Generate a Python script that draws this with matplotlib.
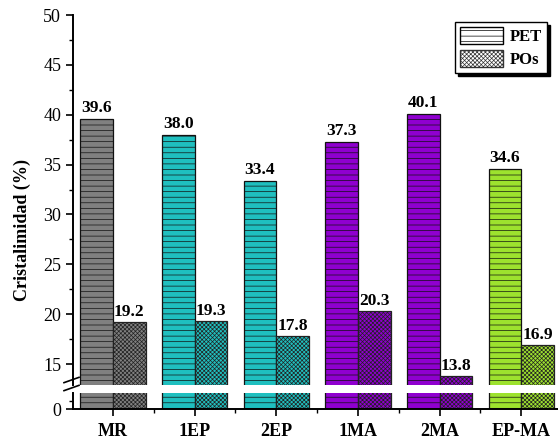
import matplotlib

matplotlib.use("Agg")

import matplotlib.pyplot as plt
import numpy as np
from matplotlib.patches import Patch

# data
samples = ["MR", "1EP", "2EP", "1MA", "2MA", "EP-MA"]
pet = [39.6, 38.0, 33.4, 37.3, 40.1, 34.6]
pos = [19.2, 19.3, 17.8, 20.3, 13.8, 16.9]
colors = ["#808080", "#1fbfbf", "#1fbfbf", "#8f00cf", "#8f00cf", "#9de22e"]

plt.rcParams["font.family"] = ["Liberation Serif", "DejaVu Serif"]
plt.rcParams["hatch.linewidth"] = 0.5
plt.rcParams["axes.linewidth"] = 1.4

fig = plt.figure(figsize=(5.58, 4.42), dpi=100)
left = 73 / 558
ax = fig.add_axes([left, 57 / 442, 1 - left, 370 / 442])
axb = fig.add_axes([left, 33 / 442, 1 - left, 16 / 442])

x = np.arange(len(samples))
w = 0.40
for a in (ax, axb):
    a.bar(x - w / 2, pet, w, color=colors, edgecolor="#111111", linewidth=0.9, hatch="---")
    a.bar(x + w / 2, pos, w, color=colors, edgecolor="#222222", linewidth=0.9, hatch="xxxxxxxx")
    a.set_xlim(-0.49, 5.45)
    for s in ("top", "right"):
        a.spines[s].set_visible(False)

ax.set_ylim(12.9, 50)
axb.set_ylim(0, 1.6)
ax.spines["bottom"].set_visible(False)

for xi, v in zip(x, pet):
    ax.text(xi - w / 2, v + 0.25, f"{v:.1f}", ha="center", va="bottom", fontsize=12.5, fontweight="bold")
for xi, v in zip(x, pos):
    ax.text(xi + w / 2, v + 0.25, f"{v:.1f}", ha="center", va="bottom", fontsize=12.5, fontweight="bold")

ax.set_yticks(np.arange(15, 51, 5))
ax.set_yticks(np.arange(15, 50, 2.5), minor=True)
ax.set_xticks([])
ax.tick_params(axis="y", which="major", labelsize=13, length=5, width=1.2, direction="out")
ax.tick_params(axis="y", which="minor", length=3, width=1.0, direction="out")

axb.set_yticks([0])
axb.set_yticks([0.8], minor=True)
axb.set_xticks(x)
axb.set_xticks(x[:-1] + 0.5, minor=True)
axb.set_xticklabels(samples, fontsize=13, fontweight="bold")
axb.tick_params(axis="y", which="major", labelsize=13, length=5, width=1.2)
axb.tick_params(axis="y", which="minor", length=3, width=1.0)
axb.tick_params(axis="x", which="major", length=5, width=1.2, pad=5)
axb.tick_params(axis="x", which="minor", length=3, width=1.0)

# break marks on the left spine
kw = dict(transform=fig.transFigure, color="black", linewidth=1.2, clip_on=False)
for yb in (62 / 442, 54 / 442):
    fig.add_artist(plt.Line2D([64 / 558, 79 / 558], [yb - 0.006, yb + 0.006], **kw))

fig.text(22 / 558, 1 - 230 / 442, "Cristalimidad (%)", rotation=90, ha="center", va="center",
         fontsize=13, fontweight="bold")

handles = [
    Patch(facecolor="white", edgecolor="black", hatch="---", label="PET"),
    Patch(facecolor="white", edgecolor="#333333", hatch="xxxxxxxx", label="POs"),
]
leg = ax.legend(handles=handles, loc="upper right", bbox_to_anchor=(0.985, 0.99), fancybox=False,
                shadow={"color": "black", "alpha": 1.0}, edgecolor="black", framealpha=1,
                prop={"weight": "bold", "size": 12}, handlelength=2.6, handleheight=1.2,
                borderaxespad=0.2, labelspacing=0.3, handletextpad=0.4, borderpad=0.3)
leg.get_frame().set_linewidth(1.0)

fig.savefig("out.png", dpi=100)
